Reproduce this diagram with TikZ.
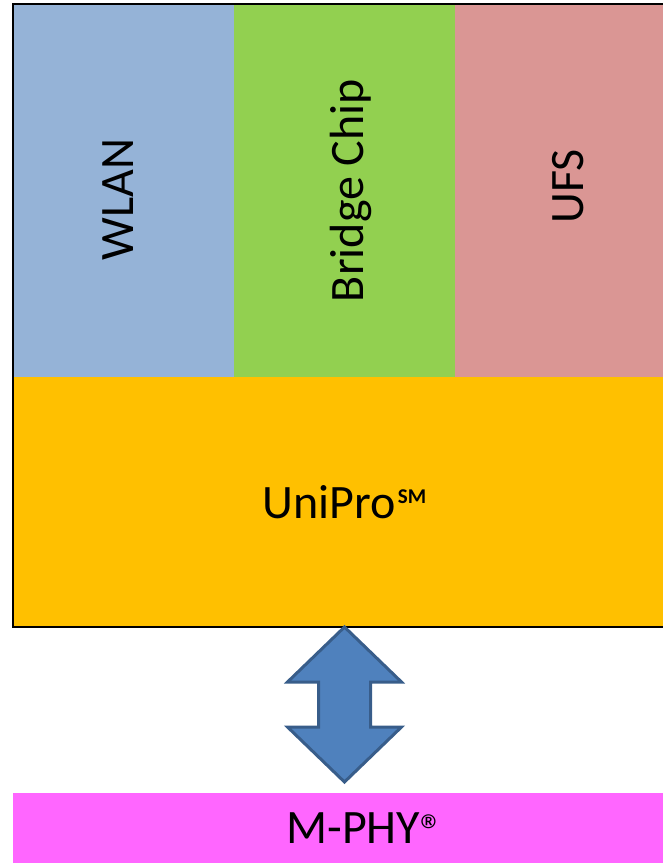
\documentclass[tikz,border=0pt]{standalone}
\usepackage{fontspec}
\setmainfont{Carlito}
\usetikzlibrary{positioning,calc}
\definecolor{wlanblue}{HTML}{95B3D7}
\definecolor{bridgegreen}{HTML}{92D050}
\definecolor{ufsred}{HTML}{DA9694}
\definecolor{uniproorange}{HTML}{FFC000}
\definecolor{mphypink}{HTML}{FF66FF}
\definecolor{arrowblue}{HTML}{4F81BD}
\definecolor{arrowedge}{HTML}{385D8A}

\begin{document}
\begin{tikzpicture}[
  x=1pt, y=1pt,
  cell/.style = {draw=none, inner sep=0pt, outer sep=0pt, anchor=north west},
  txt/.style = {font=\fontsize{48}{48}\selectfont, inner sep=0pt},
  frame/.style = {line width=2pt, line join=miter},
  blockarrow/.style = {fill=arrowblue, draw=arrowedge, line width=3pt, line join=miter}
  ]
	\useasboundingbox (0,0) rectangle (663,-863);
	\clip (0,0) rectangle (663,-863);

	\node[cell, fill=wlanblue, minimum width=221pt, minimum height=373pt] (wlan) at (13,-4) {};
	\node[cell, fill=bridgegreen, minimum width=221pt, minimum height=373pt] (bridge) at (wlan.north east) {};
	\node[cell, fill=ufsred, minimum width=221pt, minimum height=373pt] (ufs) at (bridge.north east) {};
	\node[cell, fill=uniproorange, minimum width=663pt, minimum height=250pt] (unipro) at (wlan.south west) {};
	\node[cell, fill=mphypink, minimum width=704pt, minimum height=75pt] (mphy) at (13,-793) {};

	\draw[frame] (ufs.north east) -- (wlan.north west) -- (unipro.south west) -- (unipro.south east);

	\node[txt, rotate=90] (wlanlabel) at ($(wlan.center)+(-5,-9)$) {WLAN};
	\node[txt, rotate=90] (bridgelabel) at ($(bridge.center)+(6,0)$) {Bridge Chip};
	\node[txt, rotate=90] (ufslabel) at ($(ufs.center)+(3,4)$) {UFS};
	\node[txt] (uniprolabel) at (unipro.center) {UniPro\kern2pt\raisebox{15pt}{\fontsize{21}{21}\selectfont\bfseries SM}};
	\node[txt] (mphylabel) at (365,-830) {M-PHY\raisebox{-3pt}{\fontsize{46}{46}\selectfont\textregistered}};

	\coordinate (@top) at (unipro.south);
	\draw[blockarrow] (@top) -- ++(57,-55) -- ++(-31,0) -- ++(0,-45) -- ++(31,0)
	  -- ++(-57,-55) -- ++(-57,55) -- ++(31,0) -- ++(0,45) -- ++(-31,0) -- cycle;

\end{tikzpicture}
\end{document}
